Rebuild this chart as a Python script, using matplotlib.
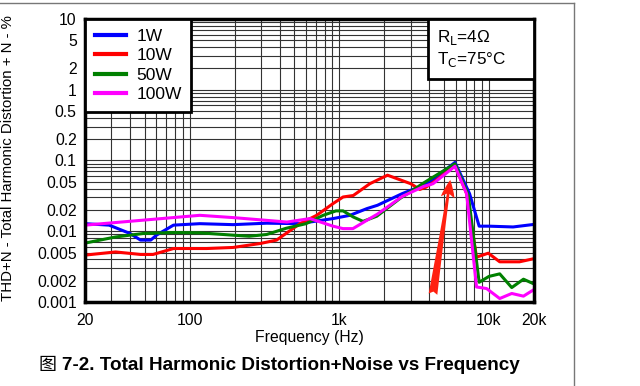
import numpy as np
import matplotlib.pyplot as plt
import matplotlib.ticker as mticker
from matplotlib.lines import Line2D
from matplotlib.patches import Rectangle

plt.rcParams['font.family'] = ['Liberation Sans', 'Noto Sans CJK SC', 'DejaVu Sans']

# THD+N (%) vs frequency (Hz)
f_1w = [20, 29, 40, 47, 55, 60, 78, 117, 195, 327, 546, 637, 908, 1178, 1530, 1800, 2630, 3660, 4230, 5930, 7420, 8600, 10000, 14500, 20000]
thd_1w = [0.0128, 0.0122, 0.0093, 0.0075, 0.0075, 0.0088, 0.0122, 0.0128, 0.0124, 0.013, 0.0128, 0.0135, 0.0151, 0.0168, 0.0209, 0.0233, 0.034, 0.0447, 0.054, 0.094, 0.034, 0.0118, 0.0118, 0.0115, 0.0125]

f_10w = [20, 32, 47, 57, 78, 130, 195, 295, 381, 546, 706, 908, 1060, 1240, 1600, 2100, 3000, 3450, 3800, 4300, 5930, 7090, 8260, 9900, 11800, 16000, 20000]
thd_10w = [0.0046, 0.0051, 0.0047, 0.0047, 0.0057, 0.0057, 0.0059, 0.0067, 0.0075, 0.0128, 0.0168, 0.0246, 0.0305, 0.032, 0.047, 0.062, 0.047, 0.039, 0.042, 0.05, 0.085, 0.034, 0.0043, 0.0049, 0.0037, 0.0037, 0.0041]

f_50w = [20, 32, 49, 78, 117, 195, 250, 327, 440, 600, 780, 950, 1060, 1240, 1440, 1780, 2540, 3100, 3650, 5930, 7280, 8600, 10000, 11800, 14200, 17000, 20000]
thd_50w = [0.0068, 0.0083, 0.0093, 0.0096, 0.0095, 0.0088, 0.0085, 0.009, 0.011, 0.0128, 0.0168, 0.0194, 0.0194, 0.0159, 0.0138, 0.0163, 0.029, 0.038, 0.048, 0.090, 0.0322, 0.0019, 0.0023, 0.0025, 0.0016, 0.0021, 0.0018]

f_100w = [20, 117, 195, 447, 637, 908, 1058, 1234, 1530, 1800, 2630, 3660, 4230, 5930, 7090, 8260, 9640, 11800, 14200, 17000, 20000]
thd_100w = [0.0122, 0.0168, 0.0156, 0.0135, 0.0151, 0.0118, 0.0109, 0.0109, 0.0143, 0.0175, 0.031, 0.043, 0.047, 0.083, 0.034, 0.00163, 0.00155, 0.00112, 0.00132, 0.00121, 0.0015]

series = [
    ('1W', f_1w, thd_1w, '#0000ff'),
    ('10W', f_10w, thd_10w, '#ff0000'),
    ('50W', f_50w, thd_50w, '#008000'),
    ('100W', f_100w, thd_100w, '#ff00ff'),
]

y_ticks = [10, 5, 2, 1, 0.5, 0.2, 0.1, 0.05, 0.02, 0.01, 0.005, 0.002, 0.001]
y_tick_labels = ['10', '5', '2', '1', '0.5', '0.2', '0.1', '0.05', '0.02', '0.01', '0.005', '0.002', '0.001']
x_ticks = [20, 100, 1000, 10000, 20000]
x_tick_labels = ['20', '100', '1k', '10k', '20k']

# red arrow drawn on the original chart
arrow_tail = (4200, 0.00118)
arrow_tip = (5550, 0.058)

fig = plt.figure(figsize=(6.4, 3.86), dpi=100)
ax = fig.add_axes([0.1328, 0.2176, 0.7016, 0.7332])

ax.set_xscale('log')
ax.set_yscale('log')
ax.set_xlim(20, 20000)
ax.set_ylim(0.001, 10)

ax.grid(True, which='both', color='#333333', linewidth=0.8)
ax.set_axisbelow(True)

for name, f, v, c in series:
    ax.plot(f, v, color=c, linewidth=2.2, label=name)

ax.annotate('', xy=arrow_tip, xytext=arrow_tail,
            arrowprops=dict(arrowstyle='fancy,head_length=0.7,head_width=0.55,tail_width=0.35',
                            mutation_scale=18, color='#ff2010', lw=0))

ax.set_yticks(y_ticks)
ax.set_yticklabels(y_tick_labels)
ax.set_xticks(x_ticks)
ax.set_xticklabels(x_tick_labels)
ax.xaxis.set_minor_locator(mticker.LogLocator(base=10, subs=np.arange(2, 10), numticks=20))
ax.yaxis.set_minor_locator(mticker.LogLocator(base=10, subs=np.arange(2, 10), numticks=20))
ax.xaxis.set_minor_formatter(mticker.NullFormatter())
ax.yaxis.set_minor_formatter(mticker.NullFormatter())
ax.tick_params(which='both', length=0, labelsize=11.3)
ax.tick_params(axis='x', pad=8)
ax.tick_params(axis='y', pad=6)

for s in ax.spines.values():
    s.set_linewidth(2.5)
    s.set_color('black')

ax.set_xlabel('Frequency (Hz)', fontsize=11.3)
ax.xaxis.set_label_coords(0.5, -0.1)
ax.set_ylabel('THD+N - Total Harmonic Distortion + N - %', fontsize=10.8)
ax.yaxis.set_label_coords(-0.156, 0.51)

leg = ax.legend(loc='upper left', fontsize=12.5, frameon=True, fancybox=False,
                borderaxespad=0, handlelength=1.8, labelspacing=0.25,
                handletextpad=0.6, borderpad=0.55)
leg.get_frame().set_edgecolor('black')
leg.get_frame().set_linewidth(2)
leg.get_frame().set_alpha(1)
for line in leg.get_lines():
    line.set_linewidth(3)

# conditions box in the top right corner
ax.add_patch(Rectangle((0.764, 0.788), 0.236, 0.212, transform=ax.transAxes,
                       facecolor='white', edgecolor='black', linewidth=2, zorder=5))
ax.text(0.785, 0.895, 'R$_\\mathrm{L}$=4Ω\nT$_\\mathrm{C}$=75°C', transform=ax.transAxes,
        ha='left', va='center', fontsize=12.3, linespacing=1.2, zorder=6)

fig.text(38 / 640, 1 - 365 / 386, '图', fontsize=13, ha='left', va='center',
         family=['Noto Sans CJK SC', 'DejaVu Sans'])
fig.text(62 / 640, 1 - 365 / 386, '7-2. Total Harmonic Distortion+Noise vs Frequency',
         fontsize=13.6, fontweight='bold', ha='left', va='center')

# page frame lines
fig.add_artist(Line2D([0, 574 / 640], [1 - 3 / 386, 1 - 3 / 386], transform=fig.transFigure, color='#777777', lw=1))
fig.add_artist(Line2D([574 / 640, 574 / 640], [0, 1 - 3 / 386], transform=fig.transFigure, color='#777777', lw=1))

fig.savefig('out.png', dpi=100)
